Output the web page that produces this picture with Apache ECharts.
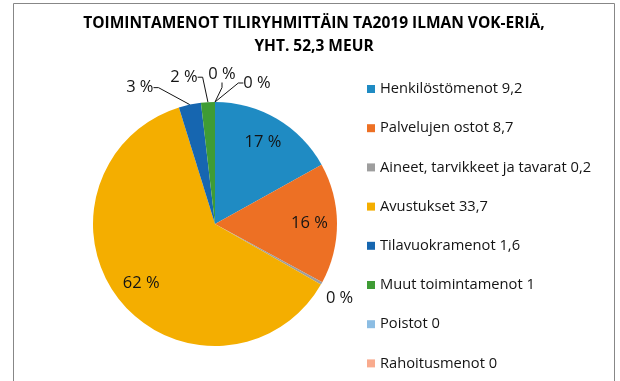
<!DOCTYPE html>
<html>
<head>
<meta charset="utf-8">
<script src="https://cdn.jsdelivr.net/npm/echarts@6/dist/echarts.min.js"></script>
<style>
  html, body { margin: 0; padding: 0; background: #fff; }
  #chart { width: 620px; height: 381px; }
</style>
</head>
<body>
<div id="chart"></div>
<script>
// Operating costs by account group (MEUR)
const categories = [
  'Henkilöstömenot',
  'Palvelujen ostot',
  'Aineet, tarvikkeet ja tavarat',
  'Avustukset',
  'Tilavuokramenot',
  'Muut toimintamenot',
  'Poistot',
  'Rahoitusmenot'
];
const values = [9.2, 8.7, 0.2, 33.7, 1.6, 1, 0, 0];
const legendValues = ['9,2', '8,7', '0,2', '33,7', '1,6', '1', '0', '0'];
const colors = ['#1f8bc3', '#ed7024', '#9e9e9e', '#f4ae00', '#1666b0', '#3f9c35', '#8cbde3', '#f9ab8e'];
const titleText = 'TOIMINTAMENOT TILIRYHMITTÄIN TA2019 ILMAN VOK-ERIÄ,\nYHT. 52,3 MEUR';

const FONT = '"Open Sans", "Noto Sans", sans-serif';
const total = values.reduce((a, b) => a + b, 0);
const pct = v => Math.round(v / total * 100) + ' %';
const bigSlices = [0, 1, 3];

const CENTER = [215, 224];
const R = 122;

// Offsets (px) of the small-slice labels from the rim point at each slice's mid angle
const labelOffsets = { 2: [18, 15], 4: [-50, -17], 5: [-24, -25], 6: [7, -28], 7: [42, -19] };

// Mid angle of each slice, clockwise from 12 o'clock (radians)
const midAngles = (() => {
  let cum = 0;
  return values.map(v => {
    const a = (cum + v / 2) / total * Math.PI * 2;
    cum += v;
    return a;
  });
})();

const mainData = categories.map((name, i) => ({
  name,
  value: values[i],
  itemStyle: { color: colors[i] },
  label: { show: !bigSlices.includes(i) },
  labelLine: { show: !bigSlices.includes(i) && i !== 2 }
}));

const innerLabelData = categories.map((name, i) => ({
  name,
  value: values[i],
  label: { show: bigSlices.includes(i) }
}));

const chart = echarts.init(document.getElementById('chart'), null, { renderer: 'canvas' });

chart.setOption({
  backgroundColor: '#ffffff',
  animation: false,
  title: {
    text: titleText,
    left: 314,
    top: 12,
    padding: 0,
    textAlign: 'center',
    textStyle: {
      fontFamily: FONT,
      fontSize: 15.5,
      fontWeight: 'bold',
      color: '#000',
      lineHeight: 23
    }
  },
  legend: {
    orient: 'vertical',
    left: 367,
    top: 81,
    padding: 0,
    icon: 'rect',
    itemWidth: 8,
    itemHeight: 8,
    itemGap: 23.2,
    data: categories,
    formatter: name => name + ' ' + legendValues[categories.indexOf(name)],
    textStyle: {
      fontFamily: FONT,
      fontSize: 14.7,
      color: '#141414',
      lineHeight: 16
    }
  },
  graphic: [{
    type: 'rect',
    shape: { x: 13.5, y: 3.5, width: 601, height: 420 },
    style: { fill: 'none', stroke: '#878787', lineWidth: 1 },
    silent: true
  }],
  series: [
    {
      type: 'pie',
      center: CENTER,
      radius: [0, R],
      startAngle: 90,
      clockwise: true,
      avoidLabelOverlap: false,
      data: mainData,
      itemStyle: { borderWidth: 0 },
      label: {
        position: 'outside',
        formatter: p => pct(p.value),
        fontFamily: FONT,
        fontSize: 16.5,
        color: '#141414'
      },
      labelLine: {
        length: 8,
        length2: 5,
        lineStyle: { color: '#141414', width: 1 }
      },
      labelLayout: p => {
        const off = labelOffsets[p.dataIndex];
        if (!off) return {};
        const a = midAngles[p.dataIndex];
        return {
          x: CENTER[0] + R * Math.sin(a) + off[0],
          y: CENTER[1] - R * Math.cos(a) + off[1],
          align: 'center',
          verticalAlign: 'middle'
        };
      },
      emphasis: { disabled: true }
    },
    {
      // Inner percentage labels placed at ~3/4 of the pie radius
      type: 'pie',
      center: CENTER,
      radius: [0, R * 1.5],
      startAngle: 90,
      clockwise: true,
      silent: true,
      legendHoverLink: false,
      z: 3,
      data: innerLabelData,
      itemStyle: { color: 'rgba(0,0,0,0)' },
      label: {
        position: 'inside',
        formatter: p => pct(p.value),
        fontFamily: FONT,
        fontSize: 16.5,
        color: '#141414'
      },
      labelLine: { show: false },
      emphasis: { disabled: true }
    }
  ]
});
</script>
</body>
</html>
